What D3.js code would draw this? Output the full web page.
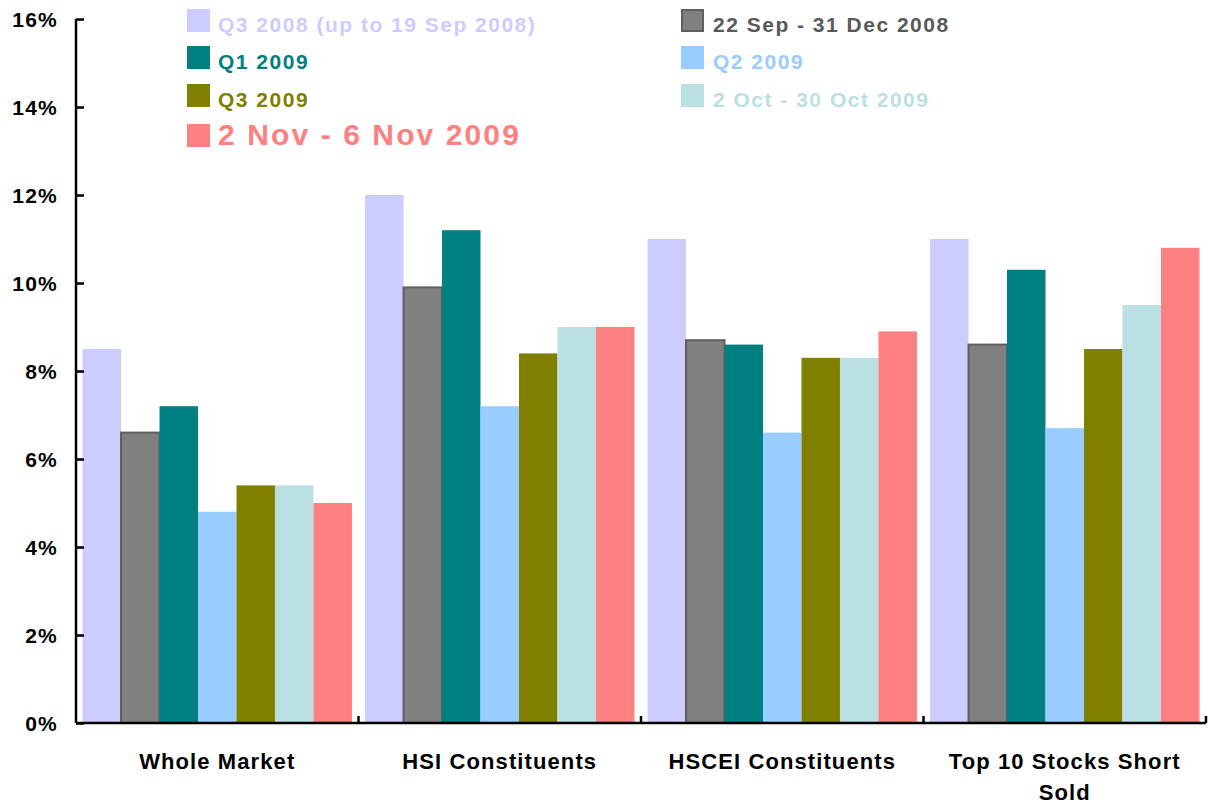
<!DOCTYPE html>
<html>
<head>
<meta charset="utf-8">
<script src="https://cdn.jsdelivr.net/npm/d3@7"></script>
<style>
  body { margin: 0; background: #fff; }
  text { font-family: Arial, "Liberation Sans", sans-serif; font-weight: bold; }
</style>
</head>
<body>
<div id="chart"></div>
<script>
// chart data
const categories = ["Whole Market", "HSI Constituents", "HSCEI Constituents", "Top 10 Stocks Short Sold"];
const seriesNames = ["Q3 2008 (up to 19 Sep 2008)", "22 Sep - 31 Dec 2008", "Q1 2009", "Q2 2009", "Q3 2009", "2 Oct - 30 Oct 2009", "2 Nov - 6 Nov 2009"];
const q3_2008 = [8.5, 12.0, 11.0, 11.0];
const sep_dec_2008 = [6.6, 9.9, 8.7, 8.6];
const q1_2009 = [7.2, 11.2, 8.6, 10.3];
const q2_2009 = [4.8, 7.2, 6.6, 6.7];
const q3_2009 = [5.4, 8.4, 8.3, 8.5];
const oct_2009 = [5.4, 9.0, 8.3, 9.5];
const nov_2009 = [5.0, 9.0, 8.9, 10.8];
const yTicks = [0, 2, 4, 6, 8, 10, 12, 14, 16];

const seriesValues = [q3_2008, sep_dec_2008, q1_2009, q2_2009, q3_2009, oct_2009, nov_2009];
const colors = ["#CCCCFF", "#808080", "#008080", "#99CCFF", "#808000", "#BBE0E3", "#FF8080"];
const textColors = ["#CCCCFF", "#595959", "#008080", "#99CCFF", "#808000", "#BBE0E3", "#FF8080"];

const width = 1210, height = 805;
const plotLeft = 76, plotRight = 1206, plotTop = 19, plotBottom = 723;

const svg = d3.select("#chart").append("svg")
  .attr("width", width)
  .attr("height", height);

const x0 = d3.scaleBand().domain(categories).range([plotLeft, plotRight]).padding(0);
const x1 = d3.scaleBand().domain(seriesNames).range([0, x0.bandwidth()]).paddingInner(0).paddingOuter(0.17);
const y = d3.scaleLinear().domain([0, 16]).range([plotBottom, plotTop]);

// bars
const groups = svg.append("g").selectAll("g")
  .data(categories)
  .enter().append("g")
  .attr("transform", d => "translate(" + x0(d) + ",0)");

groups.selectAll("rect")
  .data((c, ci) => seriesNames.map((s, si) => ({ s: s, i: si, v: seriesValues[si][ci] })))
  .enter().append("rect")
  .attr("x", d => x1(d.s))
  .attr("y", d => y(d.v))
  .attr("width", x1.bandwidth())
  .attr("height", d => plotBottom - y(d.v))
  .attr("fill", d => colors[d.i])
  .attr("stroke", d => d.i == 1 ? "#5f5f5f" : "none")
  .attr("stroke-width", 2);

// y axis
const yAxis = svg.append("g")
  .attr("transform", "translate(" + plotLeft + ",0)")
  .call(d3.axisRight(y).tickValues(yTicks).tickSize(8).tickFormat(d => d + "%"));
yAxis.select(".domain").attr("stroke", "#000").attr("stroke-width", 2.5).attr("d", "M0," + plotTop + "V" + plotBottom);
yAxis.selectAll(".tick line").attr("stroke", "#000").attr("stroke-width", 2.5);
yAxis.selectAll(".tick text")
  .attr("x", -18)
  .attr("dy", "0.35em")
  .attr("text-anchor", "end")
  .attr("fill", "#000")
  .style("font-size", "21px")
  .style("letter-spacing", "1.2px");

// x axis
const xAxis = svg.append("g")
  .attr("transform", "translate(0," + plotBottom + ")");
xAxis.append("line")
  .attr("x1", plotLeft).attr("x2", plotRight)
  .attr("stroke", "#000").attr("stroke-width", 2.5);
xAxis.selectAll(".sep")
  .data(categories)
  .enter().append("line")
  .attr("x1", d => x0(d) + x0.bandwidth())
  .attr("x2", d => x0(d) + x0.bandwidth())
  .attr("y1", 0).attr("y2", -7)
  .attr("stroke", "#000").attr("stroke-width", 2.5);

const labels = xAxis.selectAll(".lbl")
  .data(categories)
  .enter().append("text")
  .attr("x", d => x0(d) + x0.bandwidth() / 2)
  .attr("y", 46)
  .attr("text-anchor", "middle")
  .attr("fill", "#000")
  .style("font-size", "22px")
  .style("letter-spacing", "1.1px")
  .text(d => d);
labels.each(function (d) { wrap(d3.select(this), 250); });

function wrap(text, maxW) {
  const words = text.text().split(" ");
  const xPos = text.attr("x");
  text.text(null);
  let line = [];
  let tspan = text.append("tspan").attr("x", xPos);
  words.forEach(w => {
    line.push(w);
    tspan.text(line.join(" "));
    if (tspan.node().getComputedTextLength() > maxW && line.length > 1) {
      line.pop();
      tspan.text(line.join(" "));
      line = [w];
      tspan = text.append("tspan").attr("x", xPos).attr("dy", 31).text(w);
    }
  });
}

// legend
const legendPos = [
  { sx: 187, ty: 32, size: 21 },
  { sx: 681, ty: 32, size: 21 },
  { sx: 187, ty: 69, size: 21 },
  { sx: 681, ty: 69, size: 21 },
  { sx: 187, ty: 107, size: 21 },
  { sx: 681, ty: 107, size: 21 },
  { sx: 187, ty: 145, size: 30 }
];
const legend = svg.append("g").selectAll("g")
  .data(seriesNames)
  .enter().append("g");
legend.append("rect")
  .attr("x", (d, i) => legendPos[i].sx + (i == 1 ? 1 : 0))
  .attr("y", (d, i) => legendPos[i].ty - (i == 6 ? 21 : 23) + (i == 1 ? 1 : 0))
  .attr("width", (d, i) => i == 1 ? 21 : 23)
  .attr("height", (d, i) => i == 1 ? 21 : 23)
  .attr("fill", (d, i) => colors[i])
  .attr("stroke", (d, i) => i == 1 ? "#5f5f5f" : "none")
  .attr("stroke-width", 2);
legend.append("text")
  .attr("x", (d, i) => legendPos[i].sx + (i % 2 == 1 ? 32 : 31))
  .attr("y", (d, i) => legendPos[i].ty)
  .attr("fill", (d, i) => textColors[i])
  .style("font-size", (d, i) => legendPos[i].size + "px")
  .style("letter-spacing", (d, i) => (legendPos[i].size * 0.07).toFixed(1) + "px")
  .text(d => d);
</script>
</body>
</html>
